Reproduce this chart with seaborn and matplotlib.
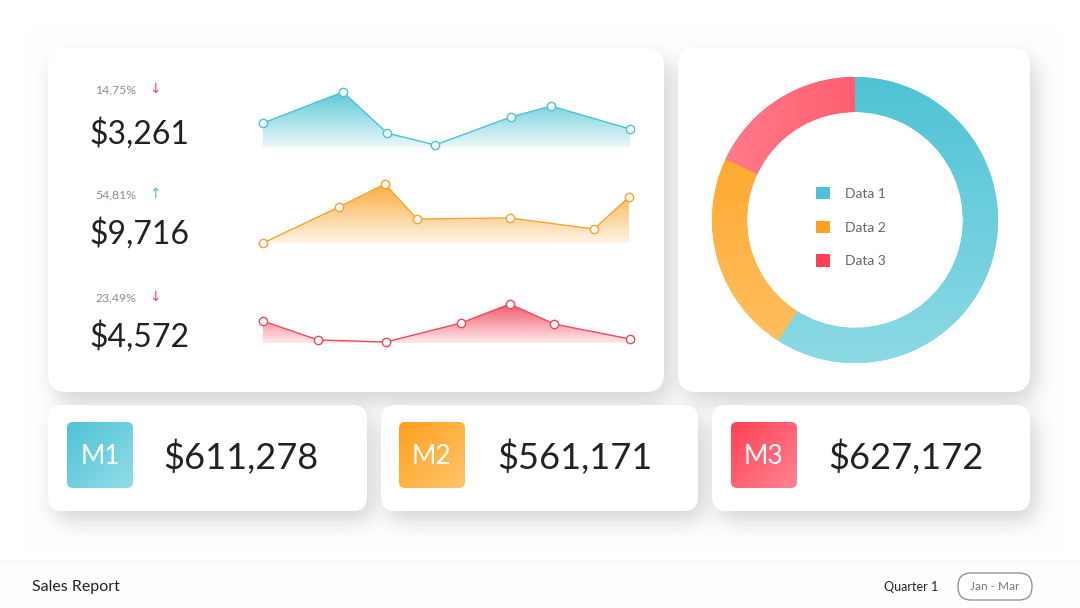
import numpy as np
import pandas as pd
import seaborn as sns
import matplotlib.pyplot as plt
from matplotlib.patches import FancyBboxPatch, Polygon, Patch
from matplotlib.colors import to_rgb

W, H = 1080, 608

# sparkline series (x spacing is uneven in the reference)
spark_x1 = [0, 80, 124, 172, 248, 288, 367]
spark_y1 = [24, 55, 14, 2, 30, 41, 18]
spark_x2 = [0, 76, 122, 154, 247, 331, 366]
spark_y2 = [0, 36, 59, 24, 25, 14, 46]
spark_x3 = [0, 55, 123, 198, 247, 291, 367]
spark_y3 = [22, 3, 1, 20, 39, 19, 4]

kpi_values = ["$3,261", "$9,716", "$4,572"]
kpi_changes = ["14,75%", "54,81%", "23,49%"]
kpi_arrows = ["↓", "↑", "↓"]

donut_labels = ["Data 1", "Data 2", "Data 3"]
donut_values = [59, 23, 18]

month_labels = ["M1", "M2", "M3"]
month_totals = ["$611,278", "$561,171", "$627,172"]

cyan, orange, red = "#4BC2D4", "#FBA22A", "#F2475B"
grad_pairs = [("#4FC3D5", "#92DCE7"), ("#FFA01E", "#FFC56B"), ("#FF4155", "#FF8493")]

sns.set_style("white")
plt.rcParams['font.family'] = ['Lato', 'DejaVu Sans']

fig = plt.figure(figsize=(W / 100, H / 100), dpi=100)

# ---- background with soft card shadows ----
cards = [(48, 48, 664, 392, 18), (678, 48, 1030, 392, 18),
         (48, 405, 367, 511, 14), (381, 405, 698, 511, 14), (712, 405, 1030, 511, 14)]


def rrect_mask(x0, y0, x1, y1, r):
    yy, xx = np.mgrid[0:H, 0:W] + 0.5
    cx = np.clip(xx, x0 + r, x1 - r)
    cy = np.clip(yy, y0 + r, y1 - r)
    return ((xx - cx) ** 2 + (yy - cy) ** 2 <= r * r).astype(float)


def blur(img, sigma):
    t = np.arange(-3 * sigma, 3 * sigma + 1)
    k = np.exp(-t ** 2 / (2 * sigma ** 2))
    k /= k.sum()
    img = np.apply_along_axis(np.convolve, 1, img, k, mode='same')
    img = np.apply_along_axis(np.convolve, 0, img, k, mode='same')
    return img


mask = np.zeros((H, W))
for x0, y0, x1, y1, r in cards:
    mask = np.maximum(mask, rrect_mask(x0 + 6, y0 + 10, x1 + 6, y1 + 10, r))
bg = 1 - 0.17 * blur(mask, 11)
fy = np.arange(560, H)
bg[560:, :] = (1 - 0.03 * np.exp(-(fy - 560) / 4.0))[:, None]

ax_bg = fig.add_axes([0, 0, 1, 1])
ax_bg.imshow(np.dstack([bg] * 3), extent=(0, W, H, 0), aspect='auto',
             interpolation='bilinear', zorder=0)
ax_bg.set_xlim(0, W)
ax_bg.set_ylim(H, 0)
ax_bg.axis('off')

for x0, y0, x1, y1, r in cards:
    ax_bg.add_patch(FancyBboxPatch((x0, y0), x1 - x0, y1 - y0,
                                   boxstyle=f"round,pad=0,rounding_size={r}",
                                   facecolor='white', edgecolor='none', zorder=1))


def lin_grad(c1, c2, t):
    a, b = np.array(to_rgb(c1)), np.array(to_rgb(c2))
    return a[None, None, :] * (1 - t[..., None]) + b[None, None, :] * t[..., None]


# ---- KPI texts in left card ----
row_y = [(90, 134), (195, 234), (298, 337)]
arrow_colors = [red, cyan, red]
for (py, vy), val, chg, arr, ac in zip(row_y, kpi_values, kpi_changes, kpi_arrows, arrow_colors):
    ax_bg.text(95, py, chg, fontsize=8.8, color='#8C8C8C', va='center', ha='left', zorder=3)
    ax_bg.text(155, py - 1, arr, fontsize=10, color=ac, va='center', ha='center',
               family=['DejaVu Sans'], zorder=3)
    ax_bg.text(89, vy, val, fontsize=23, color='#222222', va='center', ha='left', zorder=3)

# ---- month cards ----
month_sq_x = [67, 399, 731]
month_val_x = [163, 497, 828]
uu, vv = np.meshgrid(np.linspace(0, 1, 60), np.linspace(0, 1, 60))
for sx, vx, lab, tot, (c1, c2) in zip(month_sq_x, month_val_x, month_labels, month_totals, grad_pairs):
    sq = FancyBboxPatch((sx, 422), 66, 66, boxstyle="round,pad=0,rounding_size=6",
                        facecolor='none', edgecolor='none', zorder=2)
    ax_bg.add_patch(sq)
    im = ax_bg.imshow(lin_grad(c1, c2, (uu + vv) / 2), extent=(sx, sx + 66, 488, 422),
                      aspect='auto', interpolation='bilinear', zorder=2)
    im.set_clip_path(sq)
    ax_bg.text(sx + 33, 456, lab, fontsize=19, color='white', va='center', ha='center', zorder=3)
    ax_bg.text(vx, 457, tot, fontsize=26, color='#222222', va='center', ha='left', zorder=3)

ax_bg.set_xlim(0, W)
ax_bg.set_ylim(H, 0)

# ---- footer ----
ax_bg.text(32, 587, "Sales Report", fontsize=11.5, color='#222222', va='center', ha='left', zorder=3)
ax_bg.text(938, 587, "Quarter 1", fontsize=9, color='#222222', va='center', ha='right', zorder=3)
ax_bg.add_patch(FancyBboxPatch((958, 573), 74, 27, boxstyle="round,pad=0,rounding_size=13",
                               facecolor='white', edgecolor='#8A8A8A', linewidth=0.9, zorder=2))
ax_bg.text(995, 587, "Jan - Mar", fontsize=8.5, color='#777777', va='center', ha='center', zorder=3)

# ---- sparklines ----
sparks = [(spark_x1, spark_y1, cyan, 147), (spark_x2, spark_y2, orange, 243),
          (spark_x3, spark_y3, red, 343)]
for xs, ys, col, base in sparks:
    ax = fig.add_axes([263 / W, 1 - base / H, 367 / W, 60 / H])
    ax.patch.set_alpha(0)
    df = pd.DataFrame({'x': xs, 'y': ys})
    ymax = max(ys)
    grad = np.zeros((100, 1, 4))
    grad[..., :3] = to_rgb(col)
    grad[:, 0, 3] = np.linspace(0.9, 0.12, 100)
    poly = Polygon([(xs[0], 0)] + list(zip(xs, ys)) + [(xs[-1], 0)],
                   closed=True, facecolor='none', edgecolor='none')
    ax.add_patch(poly)
    im = ax.imshow(grad, extent=(xs[0], xs[-1], 0, ymax), aspect='auto',
                   origin='upper', interpolation='bilinear', zorder=1)
    im.set_clip_path(poly)
    sns.lineplot(data=df, x='x', y='y', ax=ax, color=col, linewidth=1,
                 marker='o', markersize=6, markerfacecolor='white',
                 markeredgecolor=col, markeredgewidth=1, clip_on=False, zorder=3)
    ax.set_xlim(0, 367)
    ax.set_ylim(0, 60)
    ax.axis('off')

# ---- donut ----
ax_d = fig.add_axes([712 / W, 1 - 363 / H, 286 / W, 286 / H])
ax_d.patch.set_alpha(0)
wedges, _ = ax_d.pie(donut_values, startangle=90, counterclock=False, radius=1,
                     colors=[p[0] for p in grad_pairs],
                     wedgeprops=dict(width=0.245, edgecolor='none'))
gx, gy = np.meshgrid(np.linspace(-1, 1, 200), np.linspace(1, -1, 200))
grad_t = [(1 - gy) / 2, (1 - gy) / 2, (1 - gx) / 2]
for w, (c1, c2), t in zip(wedges, grad_pairs, grad_t):
    im = ax_d.imshow(lin_grad(c1, c2, np.clip(t, 0, 1) * 0.9), extent=(-1, 1, -1, 1),
                     aspect='auto', interpolation='bilinear', zorder=2)
    im.set_clip_path(w)
ax_d.set_xlim(-1, 1)
ax_d.set_ylim(-1, 1)
ax_d.set_aspect('equal')
ax_d.axis('off')
handles = [Patch(facecolor=p[0], edgecolor='none') for p in grad_pairs]
ax_d.legend(handles, donut_labels, loc='center', bbox_to_anchor=(-0.03, -0.05),
            bbox_transform=ax_d.transData, frameon=False, fontsize=10,
            handlelength=1.0, handleheight=1.0, labelspacing=1.5,
            handletextpad=1.1, labelcolor='#666666')

fig.savefig("out.png", dpi=100)
